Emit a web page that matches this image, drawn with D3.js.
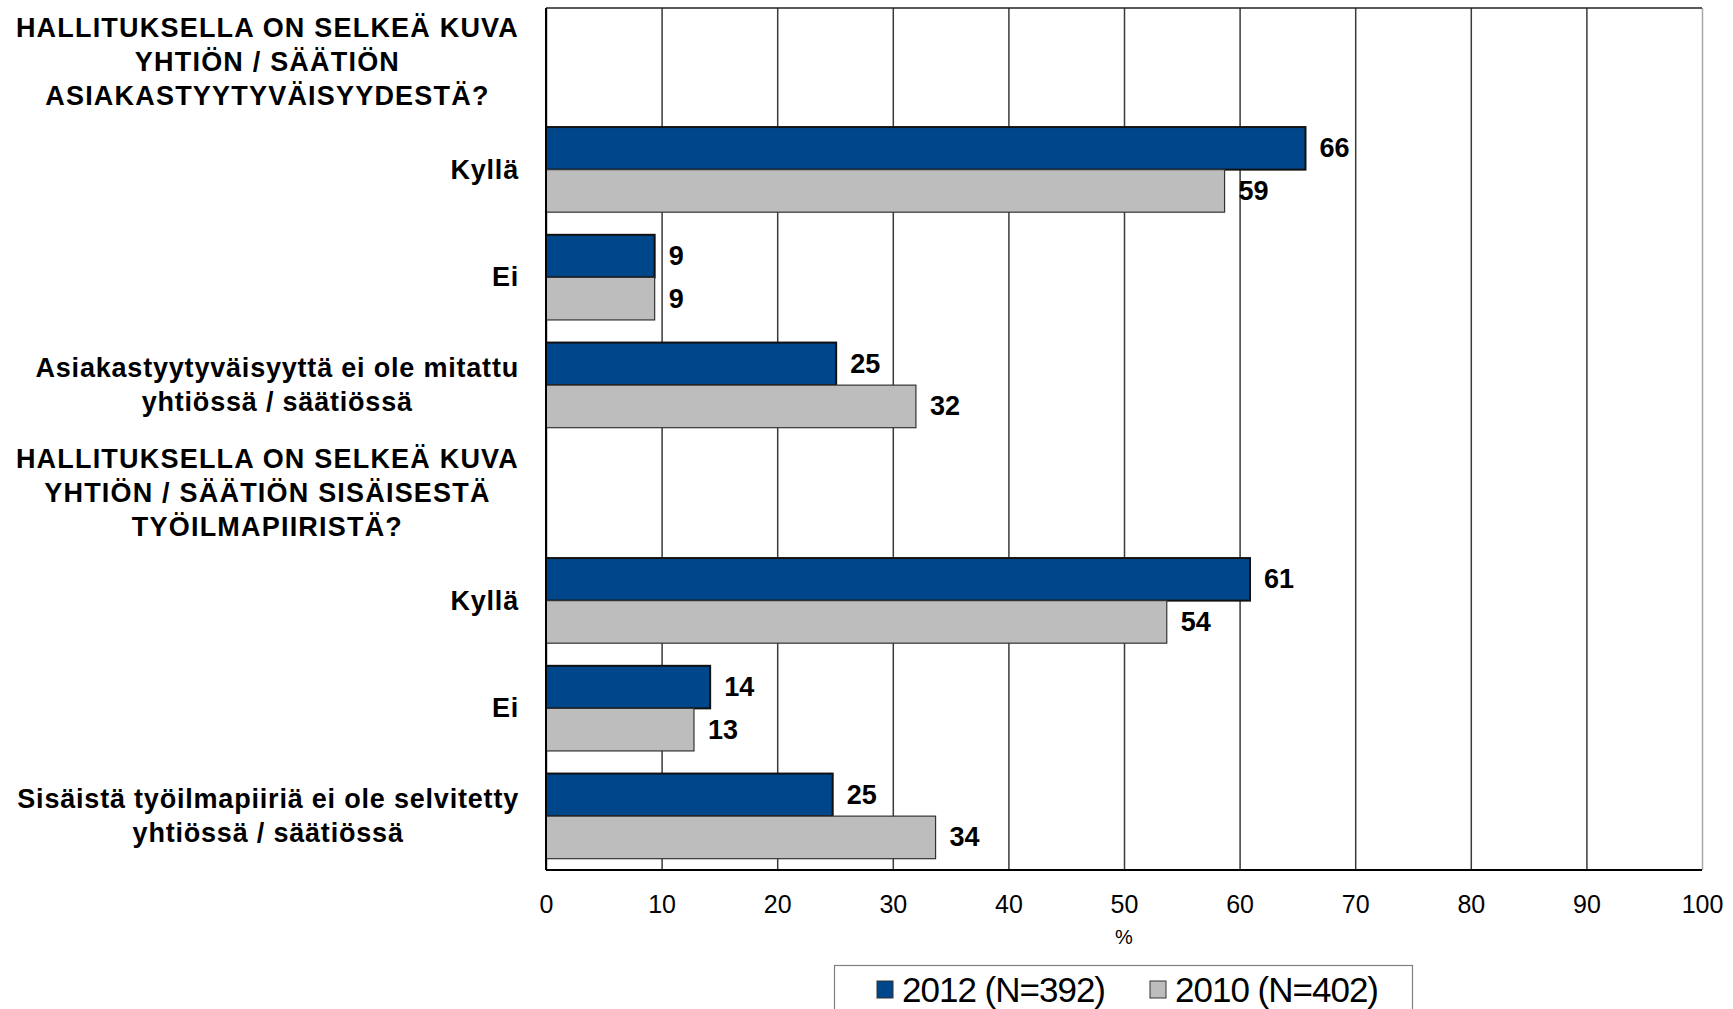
<!DOCTYPE html>
<html>
<head>
<meta charset="utf-8">
<script src="https://cdn.jsdelivr.net/npm/d3@7"></script>
<style>
  body { margin:0; background:#fff; }
  svg { display:block; font-family:"Liberation Sans", Arial, sans-serif; }
</style>
</head>
<body>
<div id="chart"></div>
<script>
// categories, one list of text lines per row
var categories = [
  ["HALLITUKSELLA ON SELKEÄ KUVA","YHTIÖN / SÄÄTIÖN","ASIAKASTYYTYVÄISYYDESTÄ?"],
  ["Kyllä"],
  ["Ei"],
  ["Asiakastyytyväisyyttä ei ole mitattu","yhtiössä / säätiössä"],
  ["HALLITUKSELLA ON SELKEÄ KUVA","YHTIÖN / SÄÄTIÖN SISÄISESTÄ","TYÖILMAPIIRISTÄ?"],
  ["Kyllä"],
  ["Ei"],
  ["Sisäistä työilmapiiriä ei ole selvitetty","yhtiössä / säätiössä"]
];
// bar lengths as drawn (labels show them rounded)
var values2012 = [null,65.7,9.4,25.1,null,60.9,14.2,24.8];
var values2010 = [null,58.7,9.4,32,null,53.7,12.8,33.7];
var seriesNames = ["2012 (N=392)","2010 (N=402)"];
var tickValues = [0,10,20,30,40,50,60,70,80,90,100];

var drawbars = function(){
  var width = 1733;
  var height = 1009;
  var left = 546, right = 1702, top = 8, bottom = 870;
  var colors = ["#00468a","#bcbdbc"];
  var strokes = ["#111","#333"];
  var fmt = d3.format(".0f");

  var svg = d3.select("#chart")
    .append("svg")
    .attr("width",width)
    .attr("height",height);

  var xScale = d3.scaleLinear()
    .domain([0,100])
    .range([left,right]);

  var yScale = d3.scaleBand()
    .domain(d3.range(categories.length))
    .range([top,bottom]);

  var barH = yScale.bandwidth()*0.395;

  // vertical grid lines
  var grid = svg.append("g")
    .attr("transform","translate(0,"+bottom+")")
    .call(d3.axisBottom(xScale)
      .tickValues(tickValues)
      .tickSize(-(bottom-top))
      .tickFormat(""));
  grid.select(".domain").remove();
  grid.selectAll("line")
    .attr("stroke","#3a3a3a")
    .attr("stroke-width",1.5);
  grid.selectAll(".tick").filter(function(d){ return d==100; }).select("line")
    .attr("stroke","#a8a8a8");

  // top border
  svg.append("line")
    .attr("x1",left).attr("x2",right)
    .attr("y1",top).attr("y2",top)
    .attr("stroke","#222")
    .attr("stroke-width",1.5);

  // bars
  var rows = d3.range(categories.length).filter(function(i){ return values2012[i]!=null; });
  [values2012,values2010].forEach(function(vals,s){
    svg.append("g")
      .selectAll("rect")
      .data(rows)
      .enter()
      .append("rect")
      .attr("x",xScale(0))
      .attr("y",function(i){ return yScale(i)+yScale.bandwidth()/2-barH+s*barH; })
      .attr("width",function(i){ return xScale(vals[i])-xScale(0); })
      .attr("height",barH)
      .attr("fill",colors[s])
      .attr("stroke",strokes[s])
      .attr("stroke-width",s==0?2:1.2);

    svg.append("g")
      .selectAll("text")
      .data(rows)
      .enter()
      .append("text")
      .attr("x",function(i){ return xScale(vals[i])+14; })
      .attr("y",function(i){ return yScale(i)+yScale.bandwidth()/2-barH/2+s*barH; })
      .attr("dominant-baseline","central")
      .attr("font-size",27)
      .attr("font-weight","bold")
      .attr("fill","#000")
      .text(function(i){ return fmt(vals[i]); });
  });

  // axes lines
  svg.append("line")
    .attr("x1",left).attr("x2",left)
    .attr("y1",top).attr("y2",bottom)
    .attr("stroke","#000").attr("stroke-width",2);
  svg.append("line")
    .attr("x1",left).attr("x2",right)
    .attr("y1",bottom).attr("y2",bottom)
    .attr("stroke","#000").attr("stroke-width",2);

  // tick labels
  var xAxis = svg.append("g")
    .attr("transform","translate(0,"+bottom+")")
    .call(d3.axisBottom(xScale)
      .tickValues(tickValues)
      .tickSize(0)
      .tickPadding(25));
  xAxis.select(".domain").remove();
  xAxis.selectAll("text")
    .attr("font-family","'Liberation Sans', Arial, sans-serif")
    .attr("font-size",25)
    .attr("fill","#000");

  svg.append("text")
    .attr("x",xScale(50))
    .attr("y",937)
    .attr("text-anchor","middle")
    .attr("dominant-baseline","central")
    .attr("font-size",20)
    .attr("fill","#000")
    .text("%");

  // category labels
  var labelRight = left-27;
  var lineH = 33.7;
  var labels = svg.append("g")
    .selectAll("g")
    .data(categories)
    .enter()
    .append("g");
  labels.each(function(lines,i){
    var g = d3.select(this);
    var cy = yScale(i)+yScale.bandwidth()/2;
    var texts = g.selectAll("text")
      .data(lines)
      .enter()
      .append("text")
      .attr("y",function(d,k){ return cy+(k-(lines.length-1)/2)*lineH; })
      .attr("dominant-baseline","central")
      .attr("font-size",27)
      .attr("font-weight","bold")
      .attr("letter-spacing",function(d){ return d==d.toUpperCase() ? 1.2 : 0.8; })
      .attr("fill","#000")
      .text(function(d){ return d; });
    if(lines.length==1){
      texts.attr("x",labelRight).attr("text-anchor","end");
    }else{
      var maxW = 0;
      texts.each(function(){ maxW = Math.max(maxW,this.getComputedTextLength()); });
      texts.attr("x",labelRight-maxW/2).attr("text-anchor","middle");
    }
  });

  // legend
  svg.append("rect")
    .attr("x",834.5).attr("y",965.5)
    .attr("width",578).attr("height",70)
    .attr("fill","#fff")
    .attr("stroke","#808080")
    .attr("stroke-width",1.2);
  var legendX = [877,1150];
  seriesNames.forEach(function(name,s){
    svg.append("rect")
      .attr("x",legendX[s]).attr("y",981)
      .attr("width",16).attr("height",17)
      .attr("fill",colors[s])
      .attr("stroke","#333")
      .attr("stroke-width",1);
    svg.append("text")
      .attr("x",legendX[s]+25)
      .attr("y",1002)
      .attr("font-size",35)
      .attr("letter-spacing",-1)
      .attr("fill","#000")
      .text(name);
  });
};
drawbars();
</script>
</body>
</html>
